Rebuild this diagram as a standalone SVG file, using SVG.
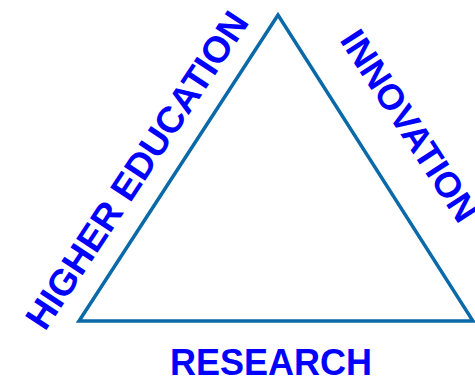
<svg xmlns="http://www.w3.org/2000/svg" width="475" height="377" viewBox="0 0 475 377">
<style>
.lbl{font-family:"Liberation Sans",Arial,sans-serif;font-weight:bold;font-size:36px;fill:#0000ff}
.edge{fill:none;stroke:#0a69a8;stroke-width:3.5;stroke-linejoin:miter}
</style>
<rect width="475" height="377" fill="#ffffff"/>
<g id="connectors">
<polygon class="edge" points="278,15 79,321 473,321"/>
</g>
<g id="higher-education">
<text class="lbl" style="font-size:37px" transform="translate(45,332) rotate(-56.5)">HIGHER EDUCATION</text>
</g>
<g id="innovation">
<text class="lbl" transform="translate(339,40) rotate(57)">INNOVATION</text>
</g>
<g id="research">
<text class="lbl" x="170" y="375">RESEARCH</text>
</g>
</svg>
